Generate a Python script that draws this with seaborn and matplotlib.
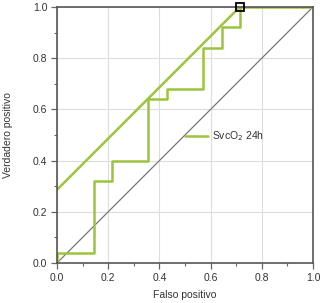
import numpy as np
import pandas as pd
import seaborn as sns
import matplotlib.pyplot as plt
from matplotlib.ticker import MultipleLocator

# ROC step curve (false positive / true positive)
fpr = [0.0, 0.0, 0.143, 0.143, 0.214, 0.214, 0.357, 0.357, 0.429, 0.429,
       0.571, 0.571, 0.643, 0.643, 0.714, 0.714, 1.0]
tpr = [0.0, 0.04, 0.04, 0.32, 0.32, 0.40, 0.40, 0.64, 0.64, 0.68,
       0.68, 0.84, 0.84, 0.92, 0.92, 1.0, 1.0]
# tangent line through the optimal cut point
tangent_x = [0.0, 0.714]
tangent_y = [0.286, 1.0]
best_x = [0.714]
best_y = [1.0]
diag = [0.0, 1.0]
label = "SvcO$_2$ 24h"

sns.set_theme(style="whitegrid")
plt.rcParams['font.family'] = ['Liberation Sans', 'DejaVu Sans']

green = "#9cc43c"
fig = plt.figure(figsize=(3.22, 3.03), dpi=100)
ax = fig.add_axes([0.177, 0.132, 0.795, 0.845])

roc = pd.DataFrame({"fpr": fpr, "tpr": tpr})
ax.plot(diag, diag, color="#777777", lw=0.9)
ax.plot(roc["fpr"], roc["tpr"], color=green, lw=1.8, label=label)
ax.plot(tangent_x, tangent_y, color=green, lw=1.8)
ax.plot(best_x, best_y, marker="s", ms=6, mfc="none", mec="black", mew=1.3, ls="none",
        clip_on=False, zorder=5)

ax.set_xlim(0, 1)
ax.set_ylim(0, 1)
ax.xaxis.set_major_locator(MultipleLocator(0.2))
ax.yaxis.set_major_locator(MultipleLocator(0.2))
ax.xaxis.set_minor_locator(MultipleLocator(0.1))
ax.yaxis.set_minor_locator(MultipleLocator(0.1))
ax.xaxis.set_major_formatter(lambda v, p: f"{v:.1f}")
ax.yaxis.set_major_formatter(lambda v, p: f"{v:.1f}")
ax.grid(True, which="major", color="#dddddd", lw=0.8)
ax.grid(False, which="minor")
ax.tick_params(which="both", direction="out", color="#666666", labelsize=7.5,
               labelcolor="#333333", pad=3)
ax.tick_params(which="major", length=4, width=0.9, left=True, bottom=True)
ax.tick_params(which="minor", length=2.5, width=0.8, left=True, bottom=True)
for s in ax.spines.values():
    s.set_color("#555555")
    s.set_linewidth(1.2)

ax.set_xlabel("Falso positivo", fontsize=7.5, color="#333333", labelpad=5)
ax.set_ylabel("Verdadero positivo", fontsize=7.5, color="#333333", labelpad=14)

ax.legend(loc="center left", bbox_to_anchor=(0.465, 0.495), frameon=False,
          fontsize=7.5, handlelength=2.2, handletextpad=0.4, labelcolor="#333333")

fig.savefig("out.png", dpi=100)
